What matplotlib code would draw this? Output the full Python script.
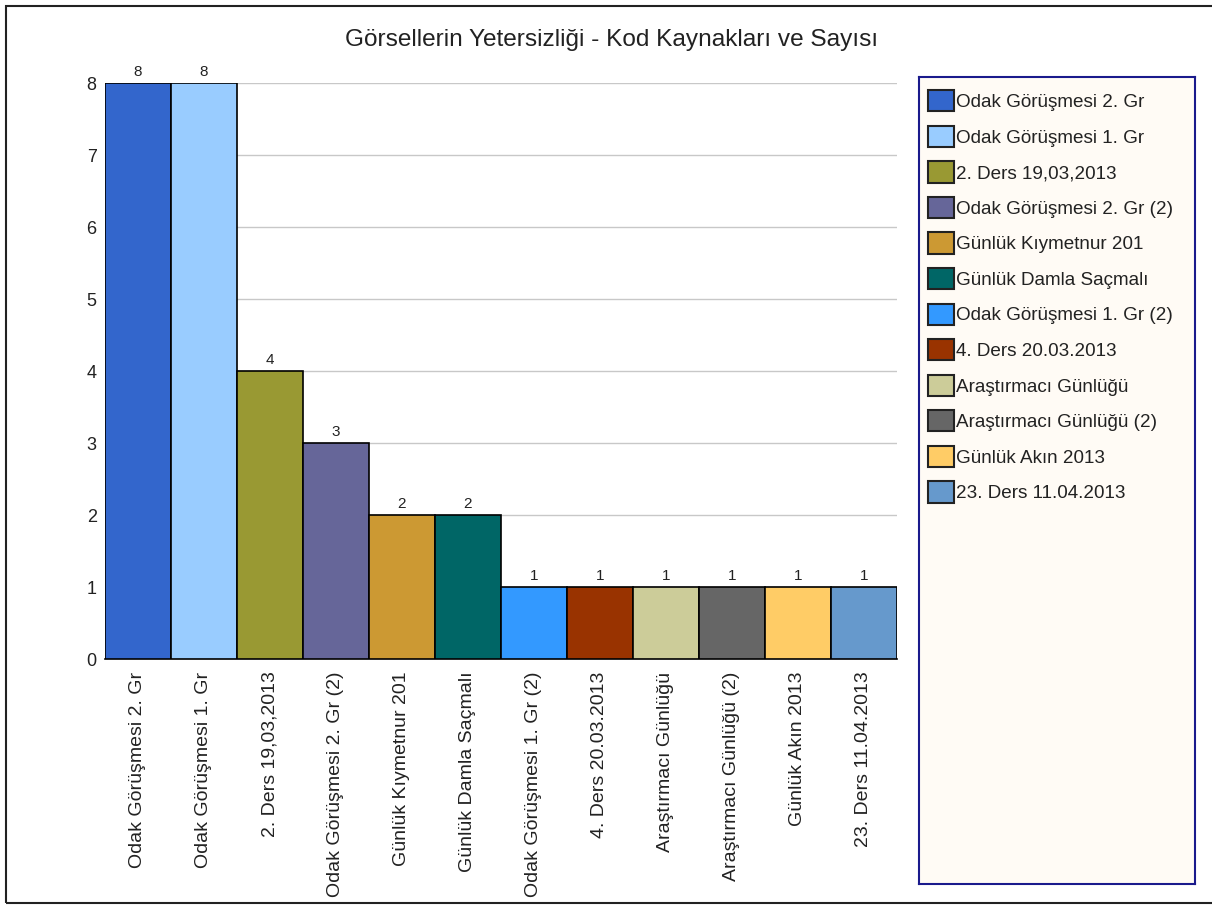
import matplotlib
matplotlib.use("Agg")
import matplotlib.pyplot as plt
from matplotlib.patches import Rectangle, Patch

categories = ["Odak Görüşmesi 2. Gr", "Odak Görüşmesi 1. Gr", "2. Ders 19,03,2013",
              "Odak Görüşmesi 2. Gr (2)", "Günlük Kıymetnur 201", "Günlük Damla Saçmalı",
              "Odak Görüşmesi 1. Gr (2)", "4. Ders 20.03.2013", "Araştırmacı Günlüğü",
              "Araştırmacı Günlüğü (2)", "Günlük Akın 2013", "23. Ders 11.04.2013"]
values = [8, 8, 4, 3, 2, 2, 1, 1, 1, 1, 1, 1]
colors = ["#3366CC", "#99CCFF", "#999933", "#666699", "#CC9933", "#006666",
          "#3399FF", "#993300", "#CCCC99", "#666666", "#FFCC66", "#6699CC"]
yticks = [0, 1, 2, 3, 4, 5, 6, 7, 8]
title = "Görsellerin Yetersizliği - Kod Kaynakları ve Sayısı"

plt.rcParams['font.family'] = ['Liberation Sans', 'DejaVu Sans']

W, H = 1212, 905
fig = plt.figure(figsize=(W / 100, H / 100), dpi=100)
fig.patch.set_facecolor("white")

# outer frame
fig.patches.append(Rectangle((6 / W, 2 / H), 1.2, 1 - 8 / H, transform=fig.transFigure,
                             fill=False, edgecolor="#222222", linewidth=1.5, zorder=0))

ax = fig.add_axes([105 / W, 1 - 659 / H, (897 - 105) / W, (659 - 83) / H])
x = list(range(len(values)))
bars = ax.bar(x, values, width=1.0, color=colors, edgecolor="black", linewidth=1.2, zorder=3)
ax.set_xlim(-0.5, len(values) - 0.5)
ax.set_ylim(0, 8)
ax.set_yticks(yticks)
ax.set_yticklabels([str(t) for t in yticks], fontsize=13, color="#222222")
ax.yaxis.grid(True, color="#C8C8C8", linewidth=1, zorder=0)
ax.set_axisbelow(True)
for s in ["left", "top", "right"]:
    ax.spines[s].set_visible(False)
ax.spines["bottom"].set_color("black")
ax.spines["bottom"].set_linewidth(1.2)
ax.tick_params(axis="y", length=0, pad=6)
ax.set_xticks(x)
ax.set_xticklabels(categories, rotation=90, fontsize=14, color="#222222", va="top", ha="center")
ax.tick_params(axis="x", length=0, pad=9)
for xi, v in zip(x, values):
    ax.annotate(str(v), (xi, v), xytext=(0, 3), textcoords="offset points",
                ha="center", va="bottom", fontsize=11, color="#222222")

fig.text(612 / W, 1 - 40 / H, title, ha="center", va="center", fontsize=17.6, color="#222222")

# legend box
lax = fig.add_axes([919 / W, 1 - 884 / H, (1195 - 919) / W, (884 - 77) / H])
lax.set_facecolor("#FFFBF5")
lax.set_xticks([]); lax.set_yticks([])
for s in lax.spines.values():
    s.set_color("#1A1A8C")
    s.set_linewidth(1.5)
handles = [Patch(facecolor=c, edgecolor="#222222", linewidth=1.5) for c in colors]
leg = lax.legend(handles, categories, loc="upper left", frameon=False, fontsize=13.6,
                 handlelength=1.35, handleheight=1.35, handletextpad=0.1, labelspacing=0.76,
                 borderaxespad=0.0, borderpad=0.7, bbox_to_anchor=(-0.014, 1.0))
for t in leg.get_texts():
    t.set_color("#222222")

fig.savefig("out.png", dpi=100)
